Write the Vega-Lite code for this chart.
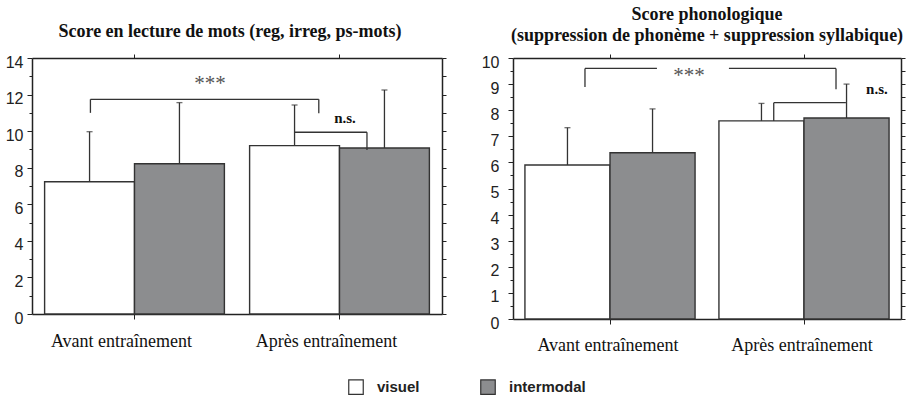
{
  "$schema": "https://vega.github.io/schema/vega-lite/v6.json",
  "padding": 5,
  "bounds": "flush",
  "spacing": 71,
  "config": {"view": {"stroke": null}, "font": "Liberation Sans"},
  "datasets": {
    "bars": [
      {"panel": "L", "cat": "Avant entraînement", "group": "visuel", "value": 7.23, "err": 9.97},
      {"panel": "L", "cat": "Avant entraînement", "group": "intermodal", "value": 8.22, "err": 11.56},
      {"panel": "L", "cat": "Après entraînement", "group": "visuel", "value": 9.21, "err": 11.43},
      {"panel": "L", "cat": "Après entraînement", "group": "intermodal", "value": 9.08, "err": 12.25},
      {"panel": "R", "cat": "Avant entraînement", "group": "visuel", "value": 5.9, "err": 7.33},
      {"panel": "R", "cat": "Avant entraînement", "group": "intermodal", "value": 6.37, "err": 8.05},
      {"panel": "R", "cat": "Après entraînement", "group": "visuel", "value": 7.59, "err": 8.26},
      {"panel": "R", "cat": "Après entraînement", "group": "intermodal", "value": 7.7, "err": 9.0}
    ],
    "brackets": [
      {"panel": "L", "x": 0.285, "x2": 1.399, "y": 11.74, "y2": 11.74},
      {"panel": "L", "x": 0.285, "x2": 0.285, "y": 11.74, "y2": 11.0},
      {"panel": "L", "x": 1.399, "x2": 1.399, "y": 11.74, "y2": 10.98},
      {"panel": "L", "x": 1.278, "x2": 1.634, "y": 9.94, "y2": 9.94},
      {"panel": "L", "x": 1.634, "x2": 1.634, "y": 9.94, "y2": 8.97},
      {"panel": "R", "x": 0.371, "x2": 0.742, "y": 9.6, "y2": 9.6},
      {"panel": "R", "x": 1.113, "x2": 1.665, "y": 9.6, "y2": 9.6},
      {"panel": "R", "x": 0.371, "x2": 0.371, "y": 9.6, "y2": 8.89},
      {"panel": "R", "x": 1.665, "x2": 1.665, "y": 9.6, "y2": 8.8},
      {"panel": "R", "x": 1.344, "x2": 1.716, "y": 8.29, "y2": 8.29},
      {"panel": "R", "x": 1.344, "x2": 1.344, "y": 8.29, "y2": 7.59}
    ],
    "notes": [
      {"panel": "L", "kind": "star", "x": 0.868, "y": 12.6, "text": "***"},
      {"panel": "L", "kind": "ns", "x": 1.527, "y": 10.72, "text": "n.s."},
      {"panel": "R", "kind": "star", "x": 0.907, "y": 9.3, "text": "***"},
      {"panel": "R", "kind": "ns", "x": 1.876, "y": 8.81, "text": "n.s."}
    ]
  },
  "resolve": {"scale": {"x": "independent", "y": "independent", "xOffset": "independent"}},
  "hconcat": [
    {
      "width": 410,
      "height": 256,
      "title": {"text": "Score en lecture de mots (reg, irreg, ps-mots)", "font": "Liberation Serif", "fontSize": 18, "fontWeight": "bold", "color": "#111", "offset": 13, "dx": -7, "anchor": "middle", "frame": "group"},
      "resolve": {"scale": {"x": "independent"}, "axis": {"x": "independent", "y": "independent"}},
      "layer": [
        {
          "data": {"name": "bars"},
          "transform": [{"filter": "datum.panel == 'L'"}],
          "mark": {"type": "bar", "stroke": "#333", "strokeWidth": 1.4},
          "encoding": {
            "x": {"field": "cat", "type": "nominal", "sort": ["Avant entraînement", "Après entraînement"], "scale": {"paddingInner": 0.123, "paddingOuter": 0.0615},
              "axis": {"orient": "bottom", "title": null, "labelAngle": 0, "labelFont": "Liberation Serif", "labelFontSize": 18, "labelColor": "#111", "labelPadding": 13, "labelOffset": -13, "tickSize": 5, "tickColor": "#222", "domainColor": "#222", "domainWidth": 1.5}},
            "xOffset": {"field": "group", "type": "nominal", "sort": ["visuel", "intermodal"], "scale": {"paddingInner": 0, "paddingOuter": 0}},
            "y": {"field": "value", "type": "quantitative", "scale": {"domain": [0, 14], "nice": false},
              "axis": {"orient": "left", "title": null, "grid": false, "values": [0,1,2,3,4,5,6,7,8,9,10,11,12,13,14], "labelExpr": "datum.value % 2 == 0 ? datum.label : ''", "tickSize": {"condition": {"test": "datum.value % 2 == 0", "value": 5}, "value": 3}, "labelFont": "Liberation Sans", "labelFontSize": 16, "labelColor": "#222", "labelPadding": 4, "labelOffset": 4, "domainColor": "#222", "domainWidth": 1.5, "tickColor": "#222"}},
            "color": {"field": "group", "type": "nominal", "sort": ["visuel", "intermodal"], "scale": {"domain": ["visuel", "intermodal"], "range": ["#ffffff", "#8c8d8f"]},
              "legend": {"title": null, "orient": "none", "legendX": 316, "legendY": 321, "direction": "horizontal", "symbolType": "square", "symbolSize": 210, "symbolStrokeColor": "#333", "symbolStrokeWidth": 1.2, "labelFont": "Liberation Sans", "labelFontWeight": "bold", "labelFontSize": 15, "labelColor": "#222", "labelOffset": 13, "columnPadding": 58, "padding": 0}}
          }
        },
        {
          "data": {"name": "bars"},
          "transform": [{"filter": "datum.panel == 'L'"}],
          "mark": {"type": "rule", "color": "#333", "strokeWidth": 1.3},
          "encoding": {
            "x": {"field": "cat", "type": "nominal", "sort": ["Avant entraînement", "Après entraînement"], "scale": {"paddingInner": 0.123, "paddingOuter": 0.0615},
              "axis": {"orient": "top", "title": null, "labels": false, "tickSize": 4, "tickColor": "#222", "domainColor": "#222", "domainWidth": 1.5}},
            "xOffset": {"field": "group", "type": "nominal", "sort": ["visuel", "intermodal"], "scale": {"paddingInner": 0, "paddingOuter": 0}},
            "y": {"field": "value", "type": "quantitative",
              "axis": {"orient": "right", "title": null, "grid": false, "labels": false, "values": [0,1,2,3,4,5,6,7,8,9,10,11,12,13,14], "tickSize": 4, "tickColor": "#222", "domainColor": "#222", "domainWidth": 1.5}},
            "y2": {"field": "err"}
          }
        },
        {
          "data": {"name": "bars"},
          "transform": [{"filter": "datum.panel == 'L'"}],
          "mark": {"type": "tick", "orient": "horizontal", "size": 6, "thickness": 1.3, "color": "#333"},
          "encoding": {
            "x": {"field": "cat", "type": "nominal", "sort": ["Avant entraînement", "Après entraînement"], "scale": {"paddingInner": 0.123, "paddingOuter": 0.0615}, "axis": null},
            "xOffset": {"field": "group", "type": "nominal", "sort": ["visuel", "intermodal"], "scale": {"paddingInner": 0, "paddingOuter": 0}},
            "y": {"field": "err", "type": "quantitative", "axis": null}
          }
        },
        {
          "data": {"name": "brackets"},
          "transform": [{"filter": "datum.panel == 'L'"}],
          "mark": {"type": "rule", "color": "#333", "strokeWidth": 1.3},
          "encoding": {
            "x": {"field": "x", "type": "quantitative", "scale": {"domain": [0, 2], "nice": false, "zero": false}, "axis": null},
            "x2": {"field": "x2"},
            "y": {"field": "y", "type": "quantitative", "axis": null},
            "y2": {"field": "y2"}
          }
        },
        {
          "data": {"name": "notes"},
          "transform": [{"filter": "datum.panel == 'L' && datum.kind == 'star'"}],
          "mark": {"type": "text", "font": "Liberation Serif", "fontSize": 21, "color": "#555", "baseline": "middle"},
          "encoding": {
            "x": {"field": "x", "type": "quantitative", "scale": {"domain": [0, 2], "nice": false, "zero": false}, "axis": null},
            "y": {"field": "y", "type": "quantitative", "axis": null},
            "text": {"field": "text"}
          }
        },
        {
          "data": {"name": "notes"},
          "transform": [{"filter": "datum.panel == 'L' && datum.kind == 'ns'"}],
          "mark": {"type": "text", "font": "Liberation Serif", "fontSize": 15, "fontWeight": "bold", "color": "#111", "baseline": "middle"},
          "encoding": {
            "x": {"field": "x", "type": "quantitative", "scale": {"domain": [0, 2], "nice": false, "zero": false}, "axis": null},
            "y": {"field": "y", "type": "quantitative", "axis": null},
            "text": {"field": "text"}
          }
        }
      ]
    },
    {
      "width": 388,
      "height": 261,
      "title": {"text": ["Score phonologique", "(suppression de phonème + suppression syllabique)"], "font": "Liberation Serif", "fontSize": 18, "fontWeight": "bold", "color": "#111", "offset": 9, "lineHeight": 21, "anchor": "middle", "frame": "group"},
      "resolve": {"scale": {"x": "independent"}, "axis": {"x": "independent", "y": "independent"}},
      "layer": [
        {
          "data": {"name": "bars"},
          "transform": [{"filter": "datum.panel == 'R'"}],
          "mark": {"type": "bar", "stroke": "#333", "strokeWidth": 1.4},
          "encoding": {
            "x": {"field": "cat", "type": "nominal", "sort": ["Avant entraînement", "Après entraînement"], "scale": {"paddingInner": 0.123, "paddingOuter": 0.0615},
              "axis": {"orient": "bottom", "title": null, "labelAngle": 0, "labelFont": "Liberation Serif", "labelFontSize": 18, "labelColor": "#111", "labelPadding": 12, "labelOffset": -2, "tickSize": 5, "tickColor": "#222", "domainColor": "#222", "domainWidth": 1.5}},
            "xOffset": {"field": "group", "type": "nominal", "sort": ["visuel", "intermodal"], "scale": {"paddingInner": 0, "paddingOuter": 0}},
            "y": {"field": "value", "type": "quantitative", "scale": {"domain": [0, 10], "nice": false},
              "axis": {"orient": "left", "title": null, "grid": false, "values": [0,0.5,1,1.5,2,2.5,3,3.5,4,4.5,5,5.5,6,6.5,7,7.5,8,8.5,9,9.5,10], "labelExpr": "datum.value % 1 == 0 ? format(datum.value, 'd') : ''", "tickSize": {"condition": {"test": "datum.value % 1 == 0", "value": 5}, "value": 3}, "labelFont": "Liberation Sans", "labelFontSize": 16, "labelColor": "#222", "labelPadding": 9, "labelOffset": 4, "domainColor": "#222", "domainWidth": 1.5, "tickColor": "#222"}},
            "color": {"field": "group", "type": "nominal", "sort": ["visuel", "intermodal"], "scale": {"domain": ["visuel", "intermodal"], "range": ["#ffffff", "#8c8d8f"]}}
          }
        },
        {
          "data": {"name": "bars"},
          "transform": [{"filter": "datum.panel == 'R'"}],
          "mark": {"type": "rule", "color": "#333", "strokeWidth": 1.3},
          "encoding": {
            "x": {"field": "cat", "type": "nominal", "sort": ["Avant entraînement", "Après entraînement"], "scale": {"paddingInner": 0.123, "paddingOuter": 0.0615},
              "axis": {"orient": "top", "title": null, "labels": false, "tickSize": 4, "tickColor": "#222", "domainColor": "#222", "domainWidth": 1.5}},
            "xOffset": {"field": "group", "type": "nominal", "sort": ["visuel", "intermodal"], "scale": {"paddingInner": 0, "paddingOuter": 0}},
            "y": {"field": "value", "type": "quantitative",
              "axis": {"orient": "right", "title": null, "grid": false, "labels": false, "values": [0,0.5,1,1.5,2,2.5,3,3.5,4,4.5,5,5.5,6,6.5,7,7.5,8,8.5,9,9.5,10], "tickSize": 4, "tickColor": "#222", "domainColor": "#222", "domainWidth": 1.5}},
            "y2": {"field": "err"}
          }
        },
        {
          "data": {"name": "bars"},
          "transform": [{"filter": "datum.panel == 'R'"}],
          "mark": {"type": "tick", "orient": "horizontal", "size": 6, "thickness": 1.3, "color": "#333"},
          "encoding": {
            "x": {"field": "cat", "type": "nominal", "sort": ["Avant entraînement", "Après entraînement"], "scale": {"paddingInner": 0.123, "paddingOuter": 0.0615}, "axis": null},
            "xOffset": {"field": "group", "type": "nominal", "sort": ["visuel", "intermodal"], "scale": {"paddingInner": 0, "paddingOuter": 0}},
            "y": {"field": "err", "type": "quantitative", "axis": null}
          }
        },
        {
          "data": {"name": "brackets"},
          "transform": [{"filter": "datum.panel == 'R'"}],
          "mark": {"type": "rule", "color": "#333", "strokeWidth": 1.3},
          "encoding": {
            "x": {"field": "x", "type": "quantitative", "scale": {"domain": [0, 2], "nice": false, "zero": false}, "axis": null},
            "x2": {"field": "x2"},
            "y": {"field": "y", "type": "quantitative", "axis": null},
            "y2": {"field": "y2"}
          }
        },
        {
          "data": {"name": "notes"},
          "transform": [{"filter": "datum.panel == 'R' && datum.kind == 'star'"}],
          "mark": {"type": "text", "font": "Liberation Serif", "fontSize": 21, "color": "#555", "baseline": "middle"},
          "encoding": {
            "x": {"field": "x", "type": "quantitative", "scale": {"domain": [0, 2], "nice": false, "zero": false}, "axis": null},
            "y": {"field": "y", "type": "quantitative", "axis": null},
            "text": {"field": "text"}
          }
        },
        {
          "data": {"name": "notes"},
          "transform": [{"filter": "datum.panel == 'R' && datum.kind == 'ns'"}],
          "mark": {"type": "text", "font": "Liberation Serif", "fontSize": 15, "fontWeight": "bold", "color": "#111", "baseline": "middle"},
          "encoding": {
            "x": {"field": "x", "type": "quantitative", "scale": {"domain": [0, 2], "nice": false, "zero": false}, "axis": null},
            "y": {"field": "y", "type": "quantitative", "axis": null},
            "text": {"field": "text"}
          }
        }
      ]
    }
  ]
}
